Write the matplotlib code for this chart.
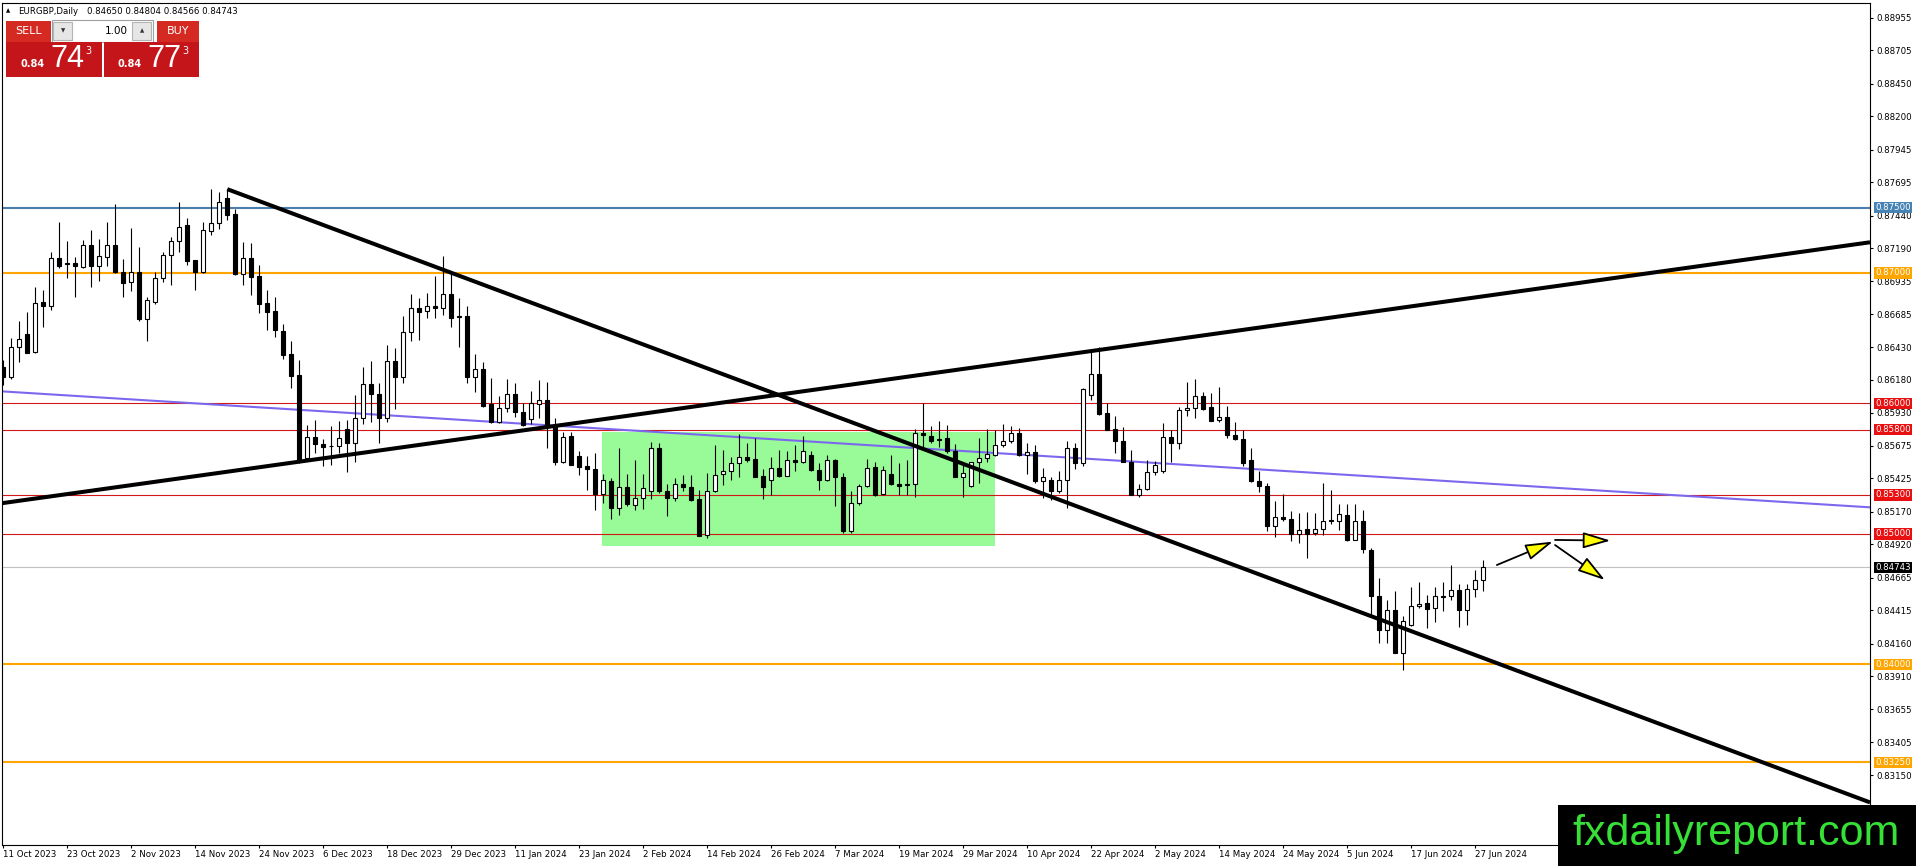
import numpy as np
import matplotlib
matplotlib.use("Agg")
import matplotlib.pyplot as plt
from matplotlib.patches import Rectangle, FancyArrowPatch
from matplotlib.transforms import blended_transform_factory

# EURGBP daily candles, 11 Oct 2023 .. 28 Jun 2024
opens = [
    .86282, .86201, .86435, .86531, .86398, .86776, .86743, .87113, .87075, .87075,
    .87049, .87213, .87057, .87121, .87213, .87011, .86930, .87011, .86648, .86781,
    .86960, .87136, .87244, .87366, .87100, .87006, .87325, .87381, .87573, .87453,
    .86991, .87113, .86978, .86769, .86710, .86557, .86380, .86220, .85581, .85742,
    .85688, .85677, .85675, .85803, .85696, .85888, .86151, .86072, .85888, .86327,
    .86206, .86544, .86735, .86712, .86743, .86730, .86840, .86671, .86671, .86200,
    .86263, .85997, .85857, .85965, .86074, .85938, .85880, .85997, .86028, .85824,
    .85555, .85752, .85594, .85517, .85497, .85308, .85407, .85198, .85359, .85221,
    .85275, .85326, .85658, .85331, .85272, .85382, .85359, .85270, .84994, .85326,
    .85456, .85479, .85543, .85589, .85574, .85446, .85410, .85505, .85446, .85566,
    .85551, .85604, .85492, .85410, .85566, .85436, .85019, .85237, .85364, .85513,
    .85305, .85459, .85382, .85382, .85382, .85773, .85752, .85727, .85735, .85632,
    .85440, .85369, .85551, .85581, .85607, .85678, .85709, .85773, .85607, .85627,
    .85402, .85410, .85326, .85410, .85658, .85543, .86061, .86227, .85926, .85803,
    .85714, .85548, .85300, .85344, .85474, .85479, .85742, .85696, .85951, .85965,
    .86058, .85972, .85870, .85895, .85758, .85729, .85568, .85405, .85369, .85058,
    .85130, .85114, .85000, .85038, .85007, .85038, .85109, .85101, .85147, .84956,
    .85101, .84879, .84527, .84261, .84418, .84088, .84299, .84445, .84470, .84429,
    .84527, .84521, .84571, .84414, .84578, .84650,
]
highs = [
    .86333, .86500, .86628, .86697, .86896, .86870, .87164, .87394, .87246, .87126,
    .87253, .87330, .87261, .87391, .87529, .87106, .87343, .87198, .86819, .87006,
    .87164, .87279, .87545, .87420, .87100, .87394, .87642, .87624, .87642, .87491,
    .87236, .87228, .87062, .86870, .86815, .86610, .86480, .86334, .85837, .85870,
    .85727, .85824, .85862, .85870, .86066, .86283, .86327, .86154, .86449, .86424,
    .86672, .86840, .86807, .86845, .86978, .87131, .86999, .86807, .86750, .86378,
    .86321, .86194, .86058, .86187, .86156, .86007, .86099, .86181, .86168, .85888,
    .85785, .85785, .85632, .85599, .85620, .85461, .85428, .85658, .85461, .85568,
    .85461, .85704, .85696, .85384, .85428, .85453, .85453, .85338, .85466, .85683,
    .85640, .85589, .85767, .85696, .85734, .85497, .85589, .85645, .85632, .85683,
    .85747, .85632, .85543, .85607, .85574, .85466, .85326, .85384, .85574, .85555,
    .85517, .85607, .85543, .85568, .85803, .86003, .85829, .85867, .85837, .85689,
    .85543, .85555, .85734, .85803, .85798, .85844, .85824, .85811, .85696, .85683,
    .85505, .85440, .85479, .85709, .85696, .86118, .86416, .86436, .86007, .85905,
    .85819, .85640, .85384, .85563, .85561, .85849, .85798, .85972, .86161, .86187,
    .86084, .86079, .86125, .85982, .85857, .85798, .85658, .85479, .85390, .85249,
    .85305, .85178, .85160, .85165, .85160, .85390, .85338, .85231, .85231, .85231,
    .85185, .84891, .84662, .84494, .84559, .84374, .84597, .84628, .84534, .84597,
    .84631, .84764, .84618, .84618, .84724, .84804,
]
lows = [
    .86142, .86190, .86320, .86386, .86386, .86589, .86717, .87037, .86965, .86812,
    .87037, .86896, .86942, .87057, .86999, .86815, .86865, .86628, .86482, .86763,
    .86934, .86909, .87159, .87062, .86870, .86999, .87292, .87336, .87406, .86986,
    .86904, .86830, .86692, .86559, .86513, .86342, .86118, .85545, .85568, .85620,
    .85517, .85525, .85624, .85471, .85555, .85844, .85854, .85696, .85854, .85959,
    .86160, .86475, .86487, .86654, .86654, .86674, .86585, .86436, .86156, .86084,
    .85972, .85850, .85850, .85938, .85896, .85824, .85842, .85888, .85658, .85530,
    .85543, .85525, .85448, .85338, .85185, .85236, .85114, .85147, .85211, .85185,
    .85191, .85270, .85313, .85139, .85249, .85326, .85249, .84981, .84968, .85318,
    .85377, .85415, .85440, .85548, .85436, .85267, .85300, .85436, .85446, .85486,
    .85543, .85486, .85333, .85402, .85216, .85011, .85011, .85224, .85359, .85287,
    .85300, .85377, .85300, .85300, .85282, .85645, .85696, .85670, .85620, .85436,
    .85282, .85359, .85390, .85555, .85594, .85670, .85696, .85599, .85461, .85390,
    .85275, .85257, .85313, .85198, .85497, .85517, .86028, .85913, .85793, .85624,
    .85548, .85298, .85282, .85338, .85448, .85466, .85548, .85653, .85905, .85888,
    .85951, .85862, .85854, .85735, .85722, .85522, .85395, .85318, .85019, .84976,
    .85096, .84943, .84930, .84815, .84994, .84994, .85078, .85032, .84943, .84950,
    .84854, .84368, .84164, .84164, .84088, .83954, .84291, .84432, .84279, .84322,
    .84406, .84494, .84284, .84305, .84513, .84566,
]
closes = [
    .86201, .86435, .86497, .86390, .86773, .86743, .87113, .87054, .87070, .87054,
    .87213, .87054, .87129, .87213, .87006, .86922, .87011, .86648, .86789, .86960,
    .87136, .87241, .87355, .87095, .87006, .87330, .87381, .87542, .87447, .86991,
    .87113, .86972, .86761, .86704, .86559, .86373, .86214, .85563, .85742, .85688,
    .85665, .85675, .85735, .85696, .85888, .86148, .86072, .85888, .86329, .86206,
    .86549, .86730, .86704, .86750, .86730, .86840, .86654, .86661, .86200, .86263,
    .85982, .85854, .85965, .86074, .85931, .85837, .86003, .86023, .85824, .85555,
    .85742, .85530, .85512, .85497, .85308, .85415, .85195, .85359, .85226, .85275,
    .85351, .85658, .85326, .85272, .85382, .85356, .85257, .84986, .85331, .85448,
    .85486, .85543, .85589, .85568, .85440, .85356, .85505, .85446, .85563, .85551,
    .85632, .85492, .85410, .85566, .85440, .85019, .85237, .85364, .85509, .85300,
    .85489, .85382, .85369, .85374, .85773, .85760, .85716, .85719, .85632, .85440,
    .85466, .85551, .85581, .85612, .85678, .85714, .85773, .85607, .85627, .85402,
    .85436, .85326, .85410, .85658, .85543, .86110, .86227, .85921, .85798, .85709,
    .85555, .85300, .85344, .85474, .85530, .85742, .85696, .85951, .85967, .86058,
    .85957, .85867, .85895, .85755, .85727, .85543, .85402, .85364, .85058, .85130,
    .85114, .84996, .85030, .85001, .85038, .85101, .85096, .85155, .84956, .85096,
    .84885, .84521, .84261, .84418, .84088, .84330, .84448, .84465, .84425, .84521,
    .84517, .84571, .84414, .84578, .84648, .84743,
]

date_labels = [
    "11 Oct 2023", "23 Oct 2023", "2 Nov 2023", "14 Nov 2023", "24 Nov 2023",
    "6 Dec 2023", "18 Dec 2023", "29 Dec 2023", "11 Jan 2024", "23 Jan 2024",
    "2 Feb 2024", "14 Feb 2024", "26 Feb 2024", "7 Mar 2024", "19 Mar 2024",
    "29 Mar 2024", "10 Apr 2024", "22 Apr 2024", "2 May 2024", "14 May 2024",
    "24 May 2024", "5 Jun 2024", "17 Jun 2024", "27 Jun 2024",
]
price_ticks = [
    0.88955, 0.88705, 0.88450, 0.88200, 0.87945, 0.87695, 0.87440, 0.87190,
    0.86935, 0.86685, 0.86430, 0.86180, 0.85930, 0.85675, 0.85425, 0.85170,
    0.84920, 0.84665, 0.84415, 0.84160, 0.83910, 0.83655, 0.83405, 0.83150,
]

# horizontal levels: price, colour, width
level_prices = [0.875, 0.870, 0.860, 0.858, 0.853, 0.850, 0.840, 0.8325]
level_colors = ["#4a7fae", "#ffa500", "#d01818", "#d01818", "#d01818", "#d01818",
                "#ffa500", "#ffa500"]
level_widths = [1.5, 1.5, 0.8, 0.8, 0.8, 0.8, 1.5, 1.5]
bid = 0.84743

# trendlines (two anchor points each: bar index, price)
down_line = ([28, 187.1], [0.87642, 0.84001])
up_line = ([187.09, 233.34], [0.86839, 0.87235])
purple_line = ([187.09, 233.34], [0.85380, 0.85204])

# consolidation box: bar range and price range
box_bars = (74.9, 123.96)
box_prices = (0.84910, 0.85779)

# projection arrows: (bar0, price0, bar1, price1)
arrows = [
    (186.7, 0.84762, 193.7, 0.84941),
    (193.97, 0.84954, 200.9, 0.84949),
    (193.97, 0.84915, 200.2, 0.84647),
]

W, H = 1916, 866
fig = plt.figure(figsize=(W / 100, H / 100), dpi=100)
fig.patch.set_facecolor("white")
ax = fig.add_axes([2 / W, 1 - 845 / H, 1868 / W, 842 / H])
XL, XR = -0.1625, 233.34
ax.set_xlim(XL, XR)
ax.set_ylim(0.826164, 0.890686)

o = np.array(opens); h = np.array(highs); l = np.array(lows); c = np.array(closes)
x = np.arange(len(o))
up = c >= o

ax.add_patch(Rectangle((box_bars[0], box_prices[0]), box_bars[1] - box_bars[0],
                       box_prices[1] - box_prices[0], fc="#98fb98", ec="none", zorder=1))

for p, col, lw in zip(level_prices, level_colors, level_widths):
    ax.axhline(p, color=col, lw=lw, zorder=2)
ax.axhline(bid, color="#c0c0c0", lw=0.8, zorder=2)


def extend(pts, xs, xe):
    (x0, x1), (y0, y1) = pts
    k = (y1 - y0) / (x1 - x0)
    return [xs, xe], [y0 + k * (xs - x0), y0 + k * (xe - x0)]


xx, yy = extend(purple_line, XL, XR)
ax.plot(xx, yy, color="#7b68ee", lw=1.5, zorder=2.5)
xx, yy = extend(up_line, XL, XR)
ax.plot(xx, yy, color="black", lw=2.9, zorder=5, solid_capstyle="butt")
xx, yy = extend(down_line, down_line[0][0], XR)
ax.plot(xx, yy, color="black", lw=2.9, zorder=5, solid_capstyle="butt")

# candles
ax.vlines(x, l, h, color="black", lw=0.8, zorder=3)
lo = np.minimum(o, c)
hgt = np.maximum(np.abs(c - o), 0.00002)
ax.bar(x[up], hgt[up], bottom=lo[up], width=0.5, color="white",
       edgecolor="black", linewidth=0.8, zorder=4)
ax.bar(x[~up], hgt[~up], bottom=lo[~up], width=0.5, color="black",
       edgecolor="black", linewidth=0.8, zorder=4)

for x0, y0, x1, y1 in arrows:
    ax.add_patch(FancyArrowPatch((x0, y0), (x1, y1),
                                 arrowstyle="-|>,head_length=1.7,head_width=0.5",
                                 mutation_scale=10, fc="yellow", ec="black", lw=1.3,
                                 shrinkA=0, shrinkB=0, zorder=6))

# axes styling
for s in ax.spines.values():
    s.set_color("black")
    s.set_linewidth(0.8)
ax.yaxis.tick_right()
ax.set_yticks(price_ticks)
ax.set_yticklabels([f"{v:.5f}" for v in price_ticks], fontsize=6.2)
ax.tick_params(axis="y", length=2.2, width=0.8, pad=2.2)
ax.set_xticks(np.arange(0, len(o), 8))
ax.set_xticklabels(date_labels, fontsize=6.2, ha="left")
ax.tick_params(axis="x", length=2.2, width=0.8, pad=1.5)

tr = blended_transform_factory(ax.transAxes, ax.transData)
label_prices = level_prices + [bid]
label_colors = ["#4682b4", "#ffa500", "#e81010", "#e81010", "#e81010", "#e81010",
                "#ffa500", "#ffa500", "black"]
for p, col in zip(label_prices, label_colors):
    ax.text(1.0027, p, f"{p:.5f}", transform=tr, fontsize=6.2, color="white",
            ha="left", va="center", zorder=10, clip_on=False,
            bbox=dict(boxstyle="square,pad=0.15", fc=col, ec="none"))

# overlay in pixel coords: header, trade panel, watermark
ov = fig.add_axes([0, 0, 1, 1], zorder=20)
ov.set_xlim(0, W)
ov.set_ylim(H, 0)
ov.axis("off")

ov.text(6, 11, "\u25b2", fontsize=4, va="center", ha="left")
ov.text(18.5, 11, "EURGBP,Daily", fontsize=6.2, va="center", ha="left")
ov.text(87, 11, "0.84650 0.84804 0.84566 0.84743", fontsize=6.2, va="center", ha="left")

red = "#d42a22"
dark = "#c4151a"
ov.add_patch(Rectangle((6, 20.5), 45, 21, fc=red, ec="none"))
ov.add_patch(Rectangle((157, 20.5), 42, 21, fc=red, ec="none"))
ov.text(28.5, 31, "SELL", fontsize=8, color="white", ha="center", va="center")
ov.text(178, 31, "BUY", fontsize=8, color="white", ha="center", va="center")
ov.add_patch(Rectangle((52, 20), 101, 21.5, fc="white", ec="#a0a0a0", lw=0.8))
ov.add_patch(Rectangle((53.5, 21.5), 19, 18.5, fc="#e6e6e6", ec="#b4b4b4", lw=0.8))
ov.add_patch(Rectangle((132.5, 21.5), 19, 18.5, fc="#e6e6e6", ec="#b4b4b4", lw=0.8))
ov.text(63, 31, "\u25bc", fontsize=4, ha="center", va="center", color="#333333")
ov.text(142, 31, "\u25b2", fontsize=4, ha="center", va="center", color="#333333")
ov.text(128, 30.5, "1.00", fontsize=7.5, ha="right", va="center")

ov.add_patch(Rectangle((6, 42), 96, 35, fc=dark, ec="none"))
ov.add_patch(Rectangle((104, 42), 95, 35, fc=dark, ec="none"))
for x0, big in ((21, "74"), (118, "77")):
    ov.text(x0, 64, "0.84", fontsize=7, fontweight="bold", color="white",
            ha="left", va="center")
    ov.text(x0 + 29, 59, big, fontsize=22, color="white", ha="left", va="center",
            family="Liberation Sans")
    ov.text(x0 + 64, 51, "3", fontsize=7, color="white", ha="left", va="center")

ov.add_patch(Rectangle((1558, 805), W - 1558, H - 805, fc="black", ec="none"))
ov.text(1736, 845, "fxdailyreport.com", fontsize=31, color="#36e036",
        ha="center", va="baseline", family="Liberation Sans")

fig.savefig("out.png", dpi=100)
